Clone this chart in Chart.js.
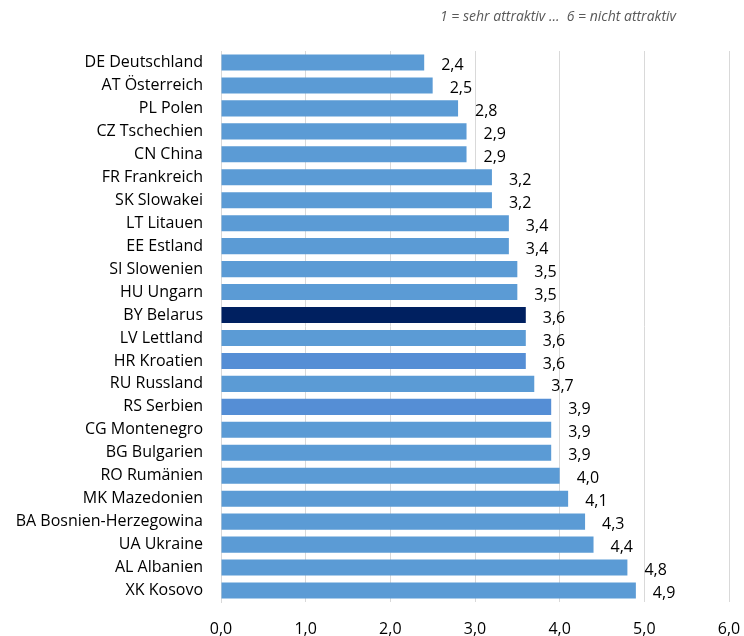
<!DOCTYPE html>
<html>
<head>
<meta charset="utf-8">
<script src="https://cdn.jsdelivr.net/npm/chart.js@4"></script>
<style>
  html, body { margin: 0; padding: 0; background: #fff; }
  #wrap { width: 744px; height: 636px; }
</style>
</head>
<body>
<div id="wrap"><canvas id="attrChart"></canvas></div>
<script>
const countries = [
  "DE Deutschland", "AT Österreich", "PL Polen", "CZ Tschechien", "CN China",
  "FR Frankreich", "SK Slowakei", "LT Litauen", "EE Estland", "SI Slowenien",
  "HU Ungarn", "BY Belarus", "LV Lettland", "HR Kroatien", "RU Russland",
  "RS Serbien", "CG Montenegro", "BG Bulgarien", "RO Rumänien", "MK Mazedonien",
  "BA Bosnien-Herzegowina", "UA Ukraine", "AL Albanien", "XK Kosovo"
];
const scores = [2.4, 2.5, 2.8, 2.9, 2.9, 3.2, 3.2, 3.4, 3.4, 3.5, 3.5, 3.6, 3.6, 3.6, 3.7, 3.9, 3.9, 3.9, 4.0, 4.1, 4.3, 4.4, 4.8, 4.9];
const xTicks = [0, 1, 2, 3, 4, 5, 6];
const scaleNote = "1 = sehr attraktiv ...  6 = nicht attraktiv";

const FONT = "'Open Sans', sans-serif";
const fmt = v => v.toFixed(1).replace(".", ",");

// bar colours: default blue, Belarus dark, HR/RS slightly darker blue
const barColors = countries.map(c => {
  if (c.startsWith("BY")) return "#002060";
  if (c.startsWith("HR") || c.startsWith("RS")) return "#558ED5";
  return "#5B9BD5";
});

const valueLabels = {
  id: "valueLabels",
  afterDatasetsDraw(chart) {
    const { ctx } = chart;
    const meta = chart.getDatasetMeta(0);
    ctx.save();
    ctx.font = "16px " + FONT;
    ctx.fillStyle = "#000";
    ctx.textBaseline = "middle";
    ctx.textAlign = "left";
    meta.data.forEach((bar, i) => {
      ctx.fillText(fmt(scores[i]), bar.x + 17, bar.y + 3);
    });
    ctx.restore();
  }
};

const noteText = {
  id: "noteText",
  afterDraw(chart) {
    const { ctx, chartArea } = chart;
    ctx.save();
    ctx.font = "italic 14px " + FONT;
    ctx.fillStyle = "#595959";
    ctx.textAlign = "right";
    ctx.textBaseline = "middle";
    ctx.fillText(scaleNote, chartArea.right - 53, 17);
    ctx.restore();
  }
};

new Chart(document.getElementById("attrChart").getContext("2d"), {
  type: "bar",
  data: {
    labels: countries,
    datasets: [{ data: scores, backgroundColor: barColors, barPercentage: 0.78, categoryPercentage: 0.9 }]
  },
  plugins: [valueLabels, noteText],
  options: {
    indexAxis: "y",
    responsive: true,
    maintainAspectRatio: false,
    animation: false,
    layout: { padding: { top: 51, right: 15, left: 0, bottom: 0 } },
    plugins: { legend: { display: false }, tooltip: { enabled: false } },
    scales: {
      x: {
        min: 0, max: 6,
        afterBuildTicks: s => { s.ticks = xTicks.map(v => ({ value: v })); },
        afterFit: s => { s.height = 34; s.paddingLeft = 0; s.paddingRight = 0; },
        ticks: { callback: v => fmt(v), color: "#000", font: { family: FONT, size: 16 }, padding: 18 },
        grid: { color: "#d9d9d9", drawTicks: false },
        border: { display: false }
      },
      y: {
        afterFit: s => { s.width = 221; },
        ticks: { color: "#000", font: { family: FONT, size: 16 }, padding: 10, autoSkip: false },
        grid: { display: false },
        border: { display: true, color: "#d9d9d9" }
      }
    }
  }
});
</script>
</body>
</html>
